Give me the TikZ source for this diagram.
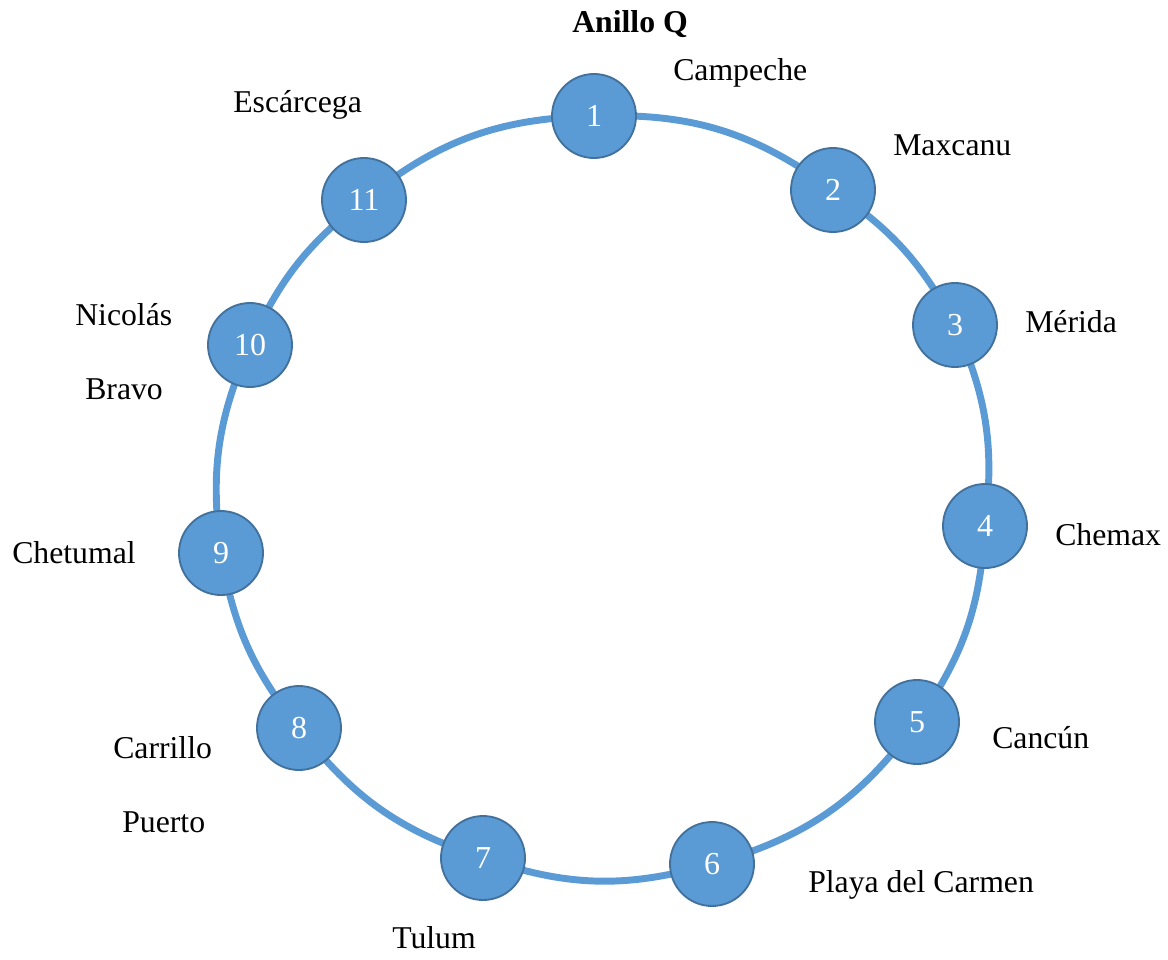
\documentclass[tikz,border=0pt]{standalone}
\usepackage{fontspec}
\setmainfont{Liberation Serif}
\definecolor{ringblue}{HTML}{5B9BD5}
\definecolor{edgeblue}{HTML}{41719C}
\begin{document}
\begin{tikzpicture}[x=0.75pt,y=-0.75pt,
  station/.style={circle,minimum size=63pt,inner sep=0pt,fill=ringblue,draw=edgeblue,line width=1.4pt,text=white,font=\fontsize{24}{28}\selectfont},
  ring/.style={draw=ringblue,line width=5.2pt},
  lbl/.style={anchor=base west,inner sep=0pt,font=\fontsize{23.8}{28}\selectfont}]
\useasboundingbox (0,0) rectangle (1168,960);
\coordinate (n1) at (594,116);
\coordinate (n2) at (833,190);
\coordinate (n3) at (955,325);
\coordinate (n4) at (985,526);
\coordinate (n5) at (917,722);
\coordinate (n6) at (712,864);
\coordinate (n7) at (483,858);
\coordinate (n8) at (299,728);
\coordinate (n9) at (221,553);
\coordinate (n10) at (250,345);
\coordinate (n11) at (364,200);
\draw[ring] (n1) to[bend left=19.1] (n2) to[bend left=13.7] (n3) to[bend left=15.4] (n4)
  to[bend left=15.8] (n5) to[bend left=19] (n6) to[bend left=17.4] (n7) to[bend left=17] (n8)
  to[bend left=14.3] (n9) to[bend left=15.6] (n10) to[bend left=13.8] (n11) to[bend left=18.6] (n1);
\node[station] (s1) at (n1) {1};
\node[station] (s2) at (n2) {2};
\node[station] (s3) at (n3) {3};
\node[station] (s4) at (n4) {4};
\node[station] (s5) at (n5) {5};
\node[station] (s6) at (n6) {6};
\node[station] (s7) at (n7) {7};
\node[station] (s8) at (n8) {8};
\node[station] (s9) at (n9) {9};
\node[station] (s10) at (n10) {10};
\node[station] (s11) at (n11) {11};
\node[lbl,font=\fontsize{23.8}{28}\selectfont\bfseries] (title) at (572,32) {Anillo Q};
\node[lbl] (l1) at (673,80) {Campeche};
\node[lbl] (l2) at (893,155) {Maxcanu};
\node[lbl] (l3) at (1025,332) {Mérida};
\node[lbl] (l4) at (1055,545) {Chemax};
\node[lbl] (l5) at (992,748) {Cancún};
\node[lbl] (l6) at (808,892) {Playa del Carmen};
\node[lbl] (l7) at (392,948) {Tulum};
\node[lbl] (l8a) at (113,758) {Carrillo};
\node[lbl] (l8b) at (122,832) {Puerto};
\node[lbl] (l9) at (12,563) {Chetumal};
\node[lbl] (l10a) at (75,325) {Nicolás};
\node[lbl] (l10b) at (85,399) {Bravo};
\node[lbl] (l11) at (233,112) {Escárcega};
\end{tikzpicture}
\end{document}
